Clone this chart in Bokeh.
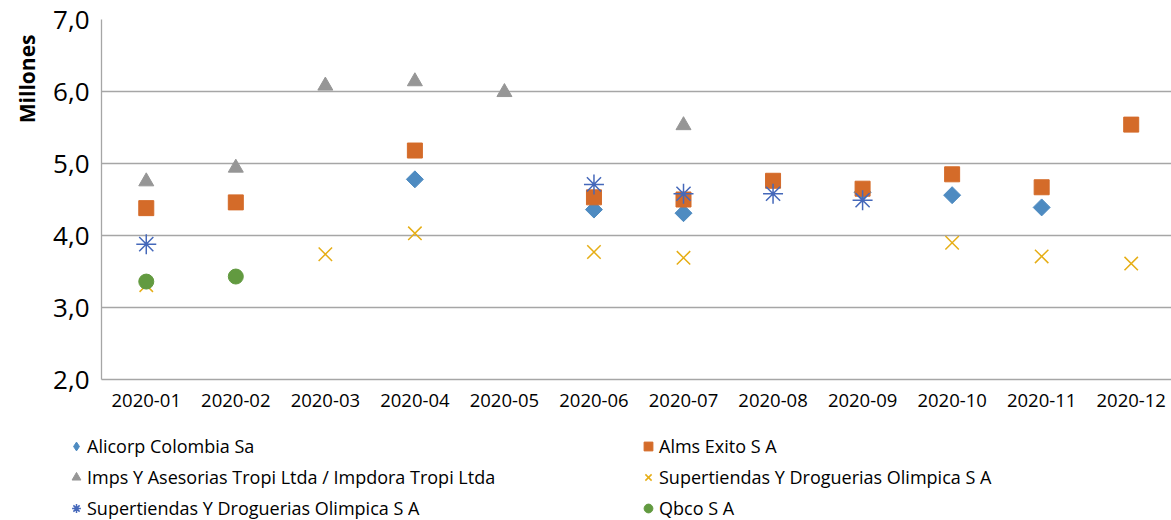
import math
from bokeh.plotting import figure
from bokeh.models import FixedTicker, Legend, LegendItem, Title
from bokeh.layouts import column
from bokeh.embed import file_html
from bokeh.resources import INLINE

nan = float("nan")
months = ["2020-01", "2020-02", "2020-03", "2020-04", "2020-05", "2020-06",
          "2020-07", "2020-08", "2020-09", "2020-10", "2020-11", "2020-12"]
alicorp = [nan, nan, nan, 4.78, nan, 4.36, 4.31, nan, 4.60, 4.56, 4.39, nan]
alms_exito = [4.38, 4.46, nan, 5.18, nan, 4.53, 4.50, 4.76, 4.65, 4.85, 4.67, 5.54]
imps_tropi = [4.75, 4.94, 6.08, 6.14, 5.99, nan, 5.53, nan, nan, nan, nan, nan]
super_x = [3.31, nan, 3.74, 4.03, nan, 3.77, 3.69, nan, nan, 3.90, 3.71, 3.61]
super_ast = [3.88, nan, nan, nan, nan, 4.71, 4.58, 4.58, 4.49, nan, nan, nan]
qbco = [3.36, 3.43, nan, nan, nan, nan, nan, nan, nan, nan, nan, nan]
y_ticks = [2, 3, 4, 5, 6, 7]
y_labels = ["2,0", "3,0", "4,0", "5,0", "6,0", "7,0"]

series_names = ["Alicorp Colombia Sa", "Alms Exito S A",
                "Imps Y Asesorias Tropi Ltda / Impdora Tropi Ltda",
                "Supertiendas Y Droguerias Olimpica S A",
                "Supertiendas Y Droguerias Olimpica S A", "Qbco S A"]
series_values = [alicorp, alms_exito, imps_tropi, super_x, super_ast, qbco]

styles = [
    dict(marker="square", angle=math.pi / 4, size=12, fill_color="#4e8bc1", line_color="#4e8bc1"),
    dict(marker="square", size=15, fill_color="#d46b29", line_color="#d46b29"),
    dict(marker="triangle", size=15, fill_color="#969696", line_color="#969696"),
    dict(marker="x", size=19, line_color="#e6ae16", line_width=1.5),
    dict(marker="asterisk", size=20, line_color="#4568ba", line_width=1.5),
    dict(marker="circle", size=15, fill_color="#629a40", line_color="#629a40"),
]

xs = list(range(len(months)))
FONT = "Open Sans"
MAIN_H = 420

p = figure(width=1171, height=MAIN_H, output_backend="svg", toolbar_location=None,
           x_range=(-0.5, 11.45), y_range=(2, 7),
           min_border_left=101, min_border_right=0, min_border_top=19,
           min_border_bottom=MAIN_H - 379)
p.frame_align = False
p.outline_line_color = None
p.background_fill_color = "white"

p.xaxis.ticker = FixedTicker(ticks=xs)
p.xaxis.major_label_overrides = {i: m for i, m in enumerate(months)}
p.yaxis.ticker = FixedTicker(ticks=y_ticks)
p.yaxis.major_label_overrides = {t: l for t, l in zip(y_ticks, y_labels)}
for ax in (p.xaxis[0], p.yaxis[0]):
    ax.major_tick_out = 0
    ax.major_tick_in = 0
    ax.minor_tick_out = 0
    ax.minor_tick_in = 0
    ax.axis_line_color = "#a6a6a6"
    ax.axis_line_width = 1.3
    ax.major_label_text_font = FONT
    ax.major_label_text_color = "#000000"
p.xaxis.major_label_text_font_size = "18.5px"
p.xaxis.major_label_standoff = 14
p.yaxis.major_label_text_font_size = "26px"
p.yaxis.major_label_standoff = 12
p.xgrid.grid_line_color = None
p.ygrid.ticker = FixedTicker(ticks=y_ticks)
p.ygrid.grid_line_color = "#a6a6a6"
p.ygrid.grid_line_width = 1.3

ytitle = Title(text="Millones", align="right", text_font=FONT, text_font_size="21px",
               text_font_style="bold", text_color="#000000", offset=15, standoff=19)
p.add_layout(ytitle, "left")

for vals, st in zip(series_values, styles):
    p.scatter(xs, vals, **st)

# legend panel below the chart
leg = figure(width=1171, height=520 - MAIN_H, output_backend="svg", toolbar_location=None,
             x_range=(0, 1), y_range=(0, 1), x_axis_type=None, y_axis_type=None,
             min_border=0)
leg.frame_align = False
leg.outline_line_color = None
leg_styles = [dict(st) for st in styles]
leg_styles[0].pop("angle")
leg_styles[0]["marker"] = "diamond"
leg_renderers = [leg.scatter([nan], [nan], **st) for st in leg_styles]
items = [LegendItem(label=n, renderers=[r]) for n, r in zip(series_names, leg_renderers)]
order = [0, 2, 4, 1, 3, 5]
legend = Legend(items=[items[i] for i in order], location=(65, 0), orientation="vertical",
                ncols=2, padding=0, margin=0, spacing=7, glyph_width=22, glyph_height=24,
                label_height=24, label_width=543, label_standoff=0,
                label_text_font=FONT, label_text_font_size="18px", label_text_color="#000000",
                border_line_alpha=0, background_fill_alpha=0)
leg.add_layout(legend, "center")

layout = column(p, leg, spacing=0)
open("out.html", "w").write(file_html(layout, INLINE))
